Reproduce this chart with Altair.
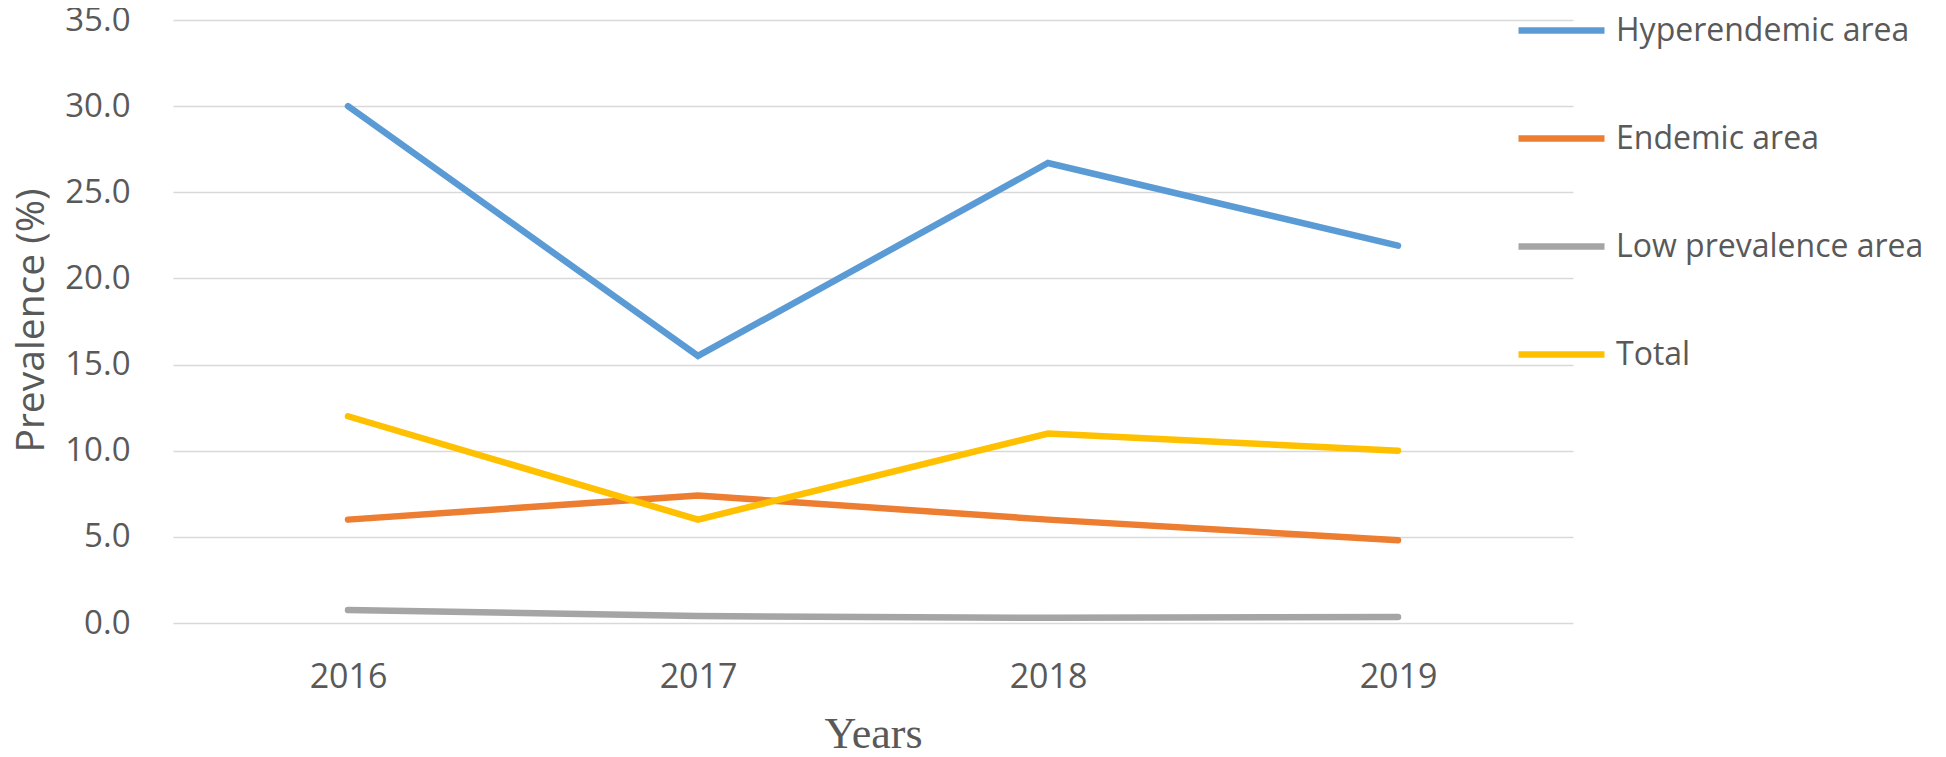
import altair as alt
import pandas as pd

years = ["2016", "2017", "2018", "2019"]
series_names = ["Hyperendemic area", "Endemic area", "Low prevalence area", "Total"]
hyperendemic = [30.0, 15.5, 26.7, 21.9]
endemic = [6.0, 7.4, 6.0, 4.8]
low_prevalence = [0.75, 0.4, 0.3, 0.35]
total = [12.0, 6.0, 11.0, 10.0]
colors = ["#5B9BD5", "#ED7D31", "#A5A5A5", "#FFC000"]

rows = []
for name, vals in zip(series_names, [hyperendemic, endemic, low_prevalence, total]):
    for y, v in zip(years, vals):
        rows.append({"Year": y, "Series": name, "Value": v})
df = pd.DataFrame(rows)

TXT = "#595959"

chart = alt.Chart(df).mark_line(strokeWidth=6.5, strokeCap="round", strokeJoin="miter").encode(
    x=alt.X("Year:O", sort=years,
            scale=alt.Scale(type="point", padding=0.5),
            axis=alt.Axis(title="Years", labelAngle=0, domain=False, ticks=False, tickSize=0,
                          grid=False, gridOpacity=0, tickOpacity=0, domainOpacity=0,
                          domainColor="transparent", tickColor="transparent", gridColor="transparent",
                          labelFont="Open Sans", labelFontSize=34, labelColor=TXT,
                          labelBaseline="alphabetic", labelPadding=64,
                          titleFont="Liberation Serif", titleFontSize=44, titleFontWeight="normal",
                          titleColor=TXT, titleX=700, titleY=124, titleBaseline="alphabetic",
                          titleAlign="center")),
    y=alt.Y("Value:Q", scale=alt.Scale(domain=[0, 35], nice=False),
            axis=alt.Axis(title="Prevalence (%)", values=[0, 5, 10, 15, 20, 25, 30, 35], format=".1f",
                          domain=False, ticks=False, tickSize=0, grid=True, gridColor="#D9D9D9",
                          gridWidth=1.5, domainOpacity=0, tickOpacity=0,
                          labelFont="Open Sans", labelFontSize=33, labelColor=TXT,
                          labelPadding=43,
                          titleFont="Open Sans", titleFontSize=39, titleFontWeight="normal",
                          titleColor=TXT, titleAngle=-90, titleX=-130, titleY=300,
                          titleBaseline="alphabetic", titleAlign="center")),
    color=alt.Color("Series:N", sort=series_names,
                    scale=alt.Scale(domain=series_names, range=colors),
                    legend=alt.Legend(title=None, orient="none", legendX=1342, legendY=-36,
                                      symbolType="stroke", symbolSize=7396, symbolStrokeWidth=6.5,
                                      labelFont="Open Sans", labelFontSize=32, labelColor=TXT,
                                      labelOffset=8, rowPadding=45, labelLimit=600)),
    order=alt.Order("Series:N"),
).properties(
    width=1400, height=603,
    background="white",
    autosize=alt.AutoSizeParams(type="none"),
    padding={"left": 165, "top": 12, "right": 365, "bottom": 134},
).configure_view(strokeWidth=0, strokeOpacity=0)

chart.save("out.html", embed_options={"renderer": "svg", "actions": False})
